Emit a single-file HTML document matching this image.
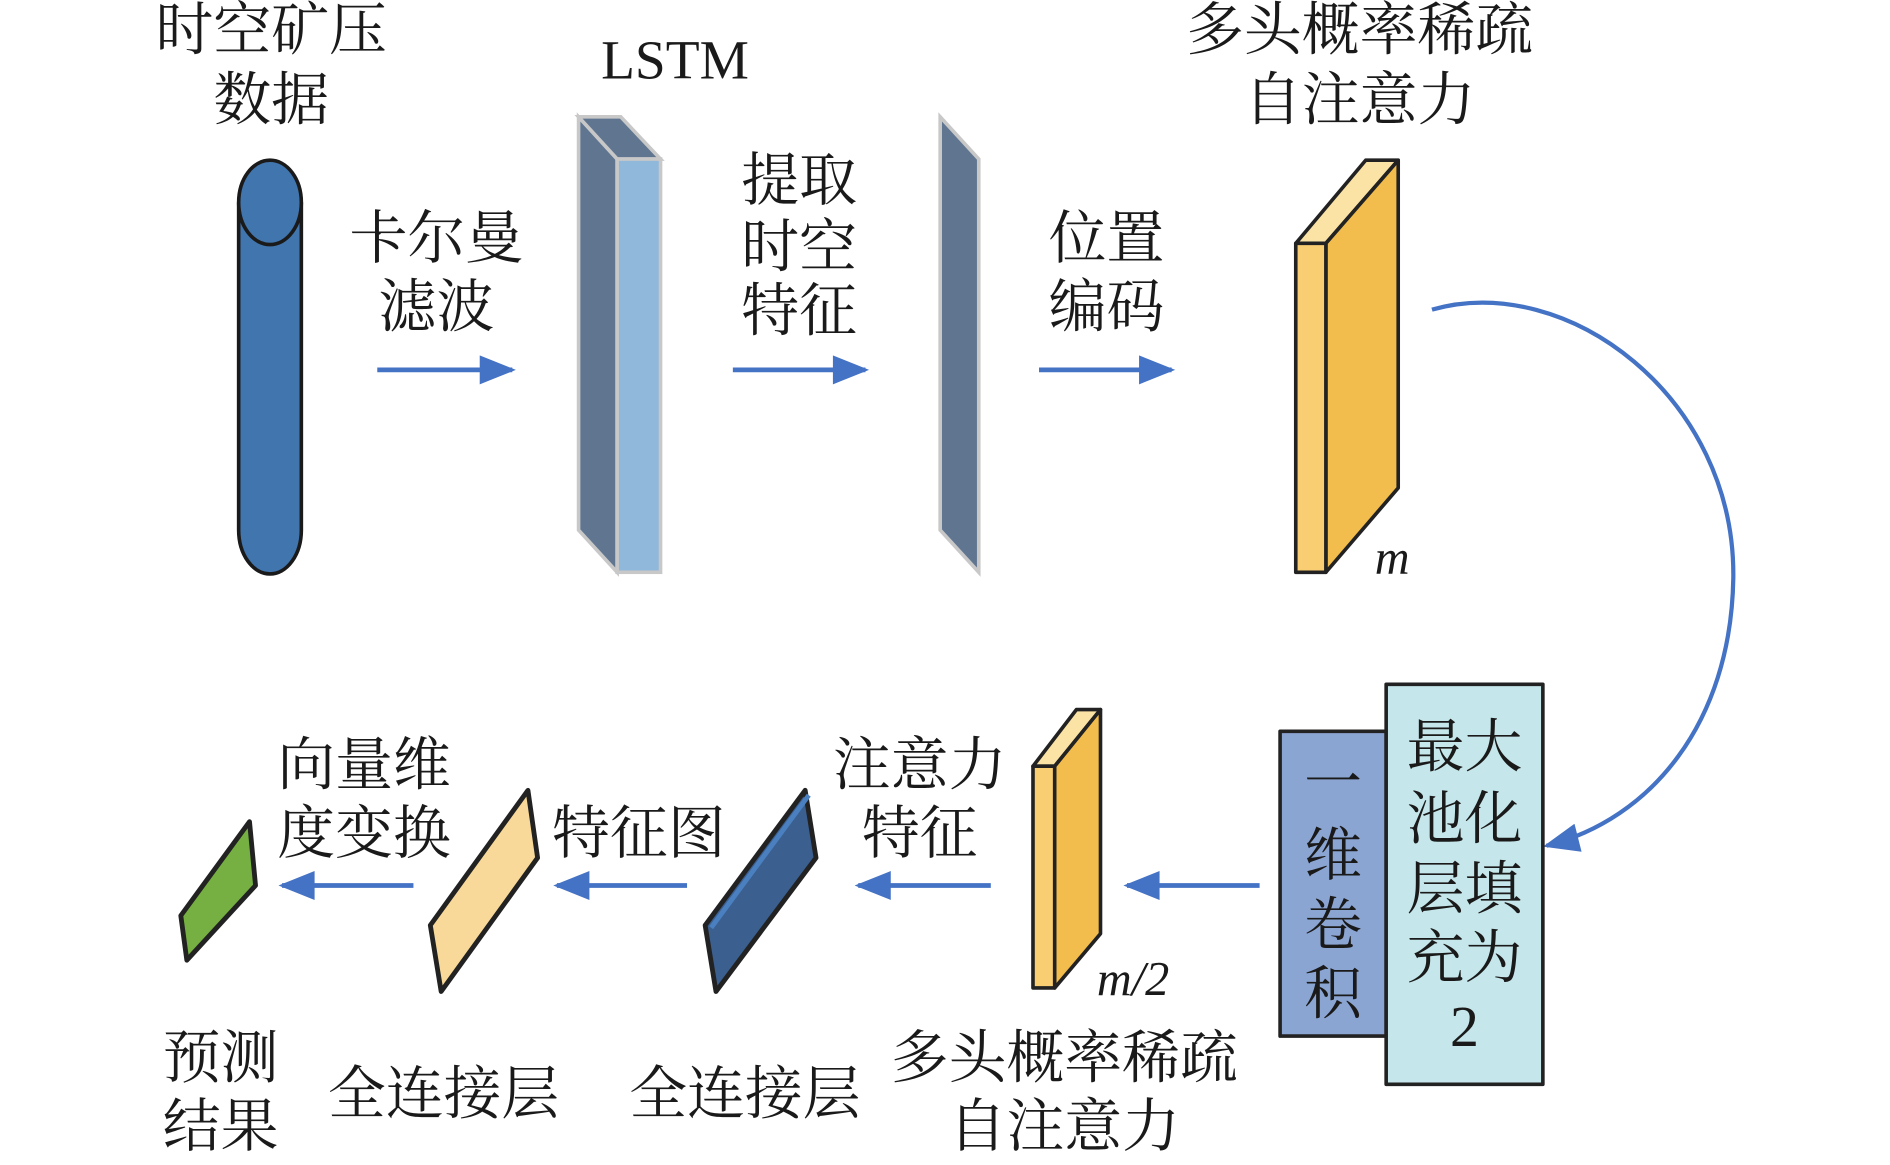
<!DOCTYPE html>
<html><head><meta charset="utf-8"><style>html,body{margin:0;padding:0;background:#fff}svg{display:block}
text{font-family:"Liberation Serif","Noto Serif CJK SC","Noto Sans CJK SC",serif;font-size:48px;fill:#1a1a1a;text-anchor:middle;dominant-baseline:central}</style></head>
<body>
<svg width="1890" height="1165" viewBox="0 0 1568 967" preserveAspectRatio="none" xmlns="http://www.w3.org/2000/svg">
<defs>
<marker id="a2" viewBox="0 0 10 8" refX="9" refY="4" markerWidth="44" markerHeight="24" orient="auto" markerUnits="userSpaceOnUse"><path d="M0,0 L10,4 L0,8 Z" fill="#4472c4"/></marker></defs>
<g stroke="#4472c4" stroke-width="4" fill="none" marker-end="url(#a2)">
<line x1="313" y1="307" x2="425" y2="307"/><line x1="608" y1="307" x2="718" y2="307"/><line x1="862" y1="307" x2="972" y2="307"/>
<line x1="1045" y1="735" x2="935" y2="735"/><line x1="822" y1="735" x2="712" y2="735"/><line x1="570" y1="735" x2="462" y2="735"/><line x1="343" y1="735" x2="234" y2="735"/>
<path stroke-width="3.5" d="M1188,257 C1300,225 1440,330 1438,480 C1436,600 1370,680 1283,702"/>
</g>
<text x="225" y="25">时空矿压</text><text x="225" y="83">数据</text>
<path d="M198,168 L198,440 A25,35 0 0 0 250,440 L250,168" fill="#4175ad" stroke="#1a1a1a" stroke-width="3"/>
<ellipse cx="224" cy="168" rx="26" ry="35" fill="#4175ad" stroke="#1a1a1a" stroke-width="3"/>
<text x="362" y="198">卡尔曼</text><text x="362" y="255">滤波</text>
<text x="560" y="50" style="font-size:46px">LSTM</text>
<g stroke="#c8c8c8" stroke-width="3">
<polygon points="480,97 512,132 512,475 480,440" fill="#5f7590"/>
<polygon points="480,97 515,97 548,132 512,132" fill="#5f7590"/>
<rect x="512" y="132" width="36" height="343" fill="#8fb8da"/>
<polygon points="780,97 812,132 812,475 780,440" fill="#5f7590"/>
</g>
<text x="663" y="150">提取</text><text x="663" y="205">时空</text><text x="663" y="258">特征</text>
<text x="918" y="198">位置</text><text x="918" y="255">编码</text>
<text x="1128" y="25">多头概率稀疏</text><text x="1128" y="83">自注意力</text>
<g stroke="#222" stroke-width="3" stroke-linejoin="round">
<polygon points="1075,202 1133,133 1160,133 1100,202" fill="#fbe3a6"/>
<polygon points="1100,202 1160,133 1160,405 1100,475" fill="#f2bd4c"/>
<rect x="1075" y="202" width="25" height="273" fill="#f9cd72"/>
<rect x="1062" y="607" width="88" height="253" fill="#8ba5d3"/>
<rect x="1150" y="568" width="130" height="332" fill="#c5e6ea"/>
<polygon points="857,636 893,589 913,589 875,636" fill="#fbe3a6"/>
<polygon points="875,636 913,589 913,775 875,820" fill="#f2bd4c"/>
<rect x="857" y="636" width="18" height="184" fill="#f9cd72"/>
<polygon points="585,768 668,656 677,712 594,823" fill="#3b5f8f" stroke-width="4"/>
<line x1="590" y1="770" x2="671" y2="660" stroke="#4a80c0" stroke-width="4"/>
<polygon points="357,768 438,656 446,712 366,823" fill="#f8d999" stroke-width="4"/>
<polygon points="150,760 207,682 212,735 155,797" fill="#76b043" stroke-width="4"/>
</g>
<text x="1155" y="463" style="font-style:italic;font-size:40px">m</text>
<text x="940" y="813" style="font-style:italic;font-size:40px">m/2</text>
<text x="1106" y="650">一</text><text x="1106" y="710">维</text><text x="1106" y="768">卷</text><text x="1106" y="825">积</text>
<text x="1215" y="620">最大</text><text x="1215" y="680">池化</text><text x="1215" y="738">层填</text><text x="1215" y="795">充为</text><text x="1215" y="852">2</text>
<text x="883" y="878">多头概率稀疏</text><text x="883" y="935">自注意力</text>
<text x="763" y="635">注意力</text><text x="763" y="692">特征</text>
<text x="530" y="692">特征图</text>
<text x="368" y="908">全连接层</text><text x="618" y="908">全连接层</text>
<text x="302" y="635">向量维</text><text x="302" y="692">度变换</text>
<text x="183" y="878">预测</text><text x="183" y="935">结果</text>
</svg>
</body></html>
